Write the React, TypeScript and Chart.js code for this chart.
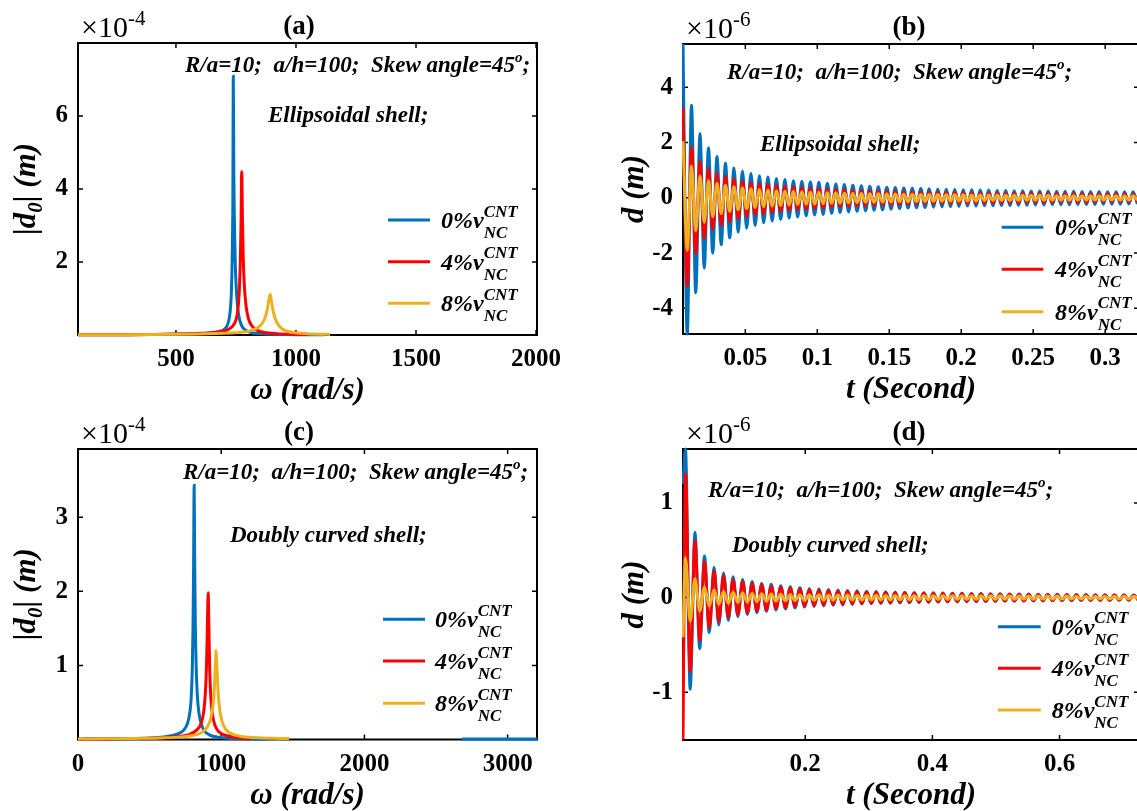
import React, { useEffect, useRef } from "react";
import { Chart, registerables } from "chart.js";
Chart.register(...registerables);

// ---------- colours / names ----------
const BLUE = "#0072BD";
const RED = "#FF0000";
const YELLOW = "#EDB120";
const seriesColors = [BLUE, RED, YELLOW];
const seriesNames = ["0%v", "4%v", "8%v"];

// ---------- panel (a): Ellipsoidal shell, frequency response ----------
const aBlueW = [92, 200, 300, 400, 500, 600, 650, 680, 700, 715, 725, 731, 735, 737, 739, 741, 743, 747, 751, 757, 765, 775, 790, 810, 850, 900, 1000, 1060, 1120];
const aBlueD = [0.004, 0.006, 0.009, 0.014, 0.022, 0.04, 0.065, 0.1, 0.15, 0.28, 0.6, 1.2, 2.4, 3.6, 7.09, 4.5, 3.3, 2.0, 1.3, 0.75, 0.42, 0.24, 0.13, 0.07, 0.035, 0.02, 0.01, 0.007, 0.005];
const aRedW = [92, 200, 300, 400, 500, 600, 680, 720, 745, 756, 763, 768, 771, 774, 777, 780, 785, 792, 802, 815, 835, 870, 920, 980, 1045];
const aRedD = [0.004, 0.007, 0.01, 0.016, 0.026, 0.045, 0.09, 0.16, 0.33, 0.6, 1.1, 2.0, 3.0, 4.47, 3.2, 2.2, 1.35, 0.8, 0.45, 0.26, 0.14, 0.07, 0.035, 0.02, 0.012];
const aYelW = [92, 200, 300, 400, 500, 600, 700, 760, 800, 830, 850, 865, 875, 882, 887, 890, 892, 894, 897, 902, 910, 920, 935, 960, 1000, 1050, 1100, 1142];
const aYelD = [0.005, 0.007, 0.01, 0.014, 0.02, 0.03, 0.045, 0.07, 0.1, 0.16, 0.25, 0.38, 0.55, 0.75, 0.95, 1.06, 1.11, 1.07, 0.96, 0.76, 0.52, 0.35, 0.21, 0.11, 0.06, 0.035, 0.022, 0.016];
const aXTicks = [500, 1000, 1500, 2000];
const aXLabels = ["500", "1000", "1500", "2000"];
const aYTicks = [2, 4, 6];
const aYLabels = ["2", "4", "6"];

// ---------- panel (b): Ellipsoidal shell, time response (extrema) ----------
const bTime = [
  0.0067, 0.00965, 0.0126, 0.01555, 0.0185, 0.02145, 0.0244, 0.02735, 0.0303, 0.03325,
  0.0362, 0.03915, 0.0421, 0.04505, 0.048, 0.05095, 0.0539, 0.05685, 0.0598, 0.06275,
  0.0657, 0.06865, 0.0716, 0.07455, 0.0775, 0.08045, 0.0834, 0.08635, 0.0893, 0.09225,
  0.0952, 0.09815, 0.1011, 0.10405, 0.107, 0.10995, 0.1129, 0.11585, 0.1188, 0.12175,
  0.1247, 0.12765, 0.1306, 0.13355, 0.1365, 0.13945, 0.1424, 0.14535, 0.1483, 0.15125,
  0.1542, 0.15715, 0.1601, 0.16305, 0.166, 0.16895, 0.1719, 0.17485, 0.1778, 0.18075,
  0.1837, 0.18665, 0.1896, 0.19255, 0.1955, 0.19845, 0.2014, 0.20435, 0.2073, 0.21025,
  0.2132, 0.21615, 0.2191, 0.22205, 0.225, 0.22795, 0.2309, 0.23385, 0.2368, 0.23975,
  0.2427, 0.24565, 0.2486, 0.25155, 0.2545, 0.25745, 0.2604, 0.26335, 0.2663, 0.26925,
  0.2722, 0.27515, 0.2781, 0.28105, 0.284, 0.28695, 0.2899, 0.29285, 0.2958, 0.29875,
  0.3017, 0.30465, 0.3076, 0.31055, 0.3135, 0.31645, 0.3194, 0.32235,
];
const bBlue = [
  5.57, -4.93, 3.35, -3.44, 2.33, -2.54, 1.81, -2.0, 1.5, -1.7,
  1.25, -1.45, 1.08, -1.25, 0.97, -1.1, 0.88, -1.0, 0.8, -0.9,
  0.75, -0.84, 0.7, -0.78, 0.66, -0.73, 0.62, -0.69, 0.6, -0.65,
  0.58, -0.62, 0.56, -0.6, 0.53, -0.56, 0.5, -0.53, 0.48, -0.51,
  0.46, -0.49, 0.44, -0.47, 0.42, -0.45, 0.4, -0.43, 0.38, -0.41,
  0.37, -0.39, 0.36, -0.37, 0.35, -0.36, 0.34, -0.35, 0.33, -0.34,
  0.32, -0.33, 0.31, -0.32, 0.3, -0.31, 0.29, -0.3, 0.29, -0.3,
  0.28, -0.29, 0.28, -0.29, 0.27, -0.28, 0.27, -0.28, 0.26, -0.27,
  0.26, -0.27, 0.25, -0.26, 0.25, -0.26, 0.25, -0.25, 0.24, -0.25,
  0.24, -0.25, 0.24, -0.24, 0.23, -0.24, 0.23, -0.24, 0.23, -0.23,
  0.22, -0.23, 0.22, -0.23, 0.22, -0.22, 0.22, -0.22,
];
const bRed = [
  3.25, -3.2, 1.85, -2.0, 1.3, -1.45, 1.05, -1.15, 0.9, -1.0,
  0.78, -0.87, 0.68, -0.76, 0.6, -0.67, 0.55, -0.61, 0.5, -0.56,
  0.47, -0.52, 0.44, -0.48, 0.41, -0.45, 0.39, -0.42, 0.37, -0.4,
  0.35, -0.38, 0.34, -0.36, 0.32, -0.34, 0.31, -0.32, 0.3, -0.31,
  0.28, -0.3, 0.27, -0.29, 0.26, -0.27, 0.25, -0.26, 0.24, -0.25,
  0.23, -0.24, 0.22, -0.23, 0.21, -0.22, 0.21, -0.21, 0.2, -0.21,
  0.2, -0.2, 0.19, -0.2, 0.19, -0.19, 0.18, -0.19, 0.18, -0.18,
  0.17, -0.18, 0.17, -0.18, 0.17, -0.17, 0.16, -0.17, 0.16, -0.17,
  0.16, -0.16, 0.16, -0.16, 0.15, -0.16, 0.15, -0.16, 0.15, -0.15,
  0.15, -0.15, 0.15, -0.15, 0.14, -0.15, 0.14, -0.15, 0.14, -0.14,
  0.14, -0.14, 0.14, -0.14, 0.14, -0.14, 0.13, -0.14,
];
const bYellow = [
  2.05, -1.9, 1.15, -1.2, 0.8, -0.88, 0.63, -0.68, 0.53, -0.57,
  0.46, -0.49, 0.4, -0.43, 0.36, -0.39, 0.33, -0.35, 0.3, -0.32,
  0.28, -0.3, 0.26, -0.28, 0.24, -0.26, 0.23, -0.24, 0.22, -0.23,
  0.21, -0.22, 0.2, -0.21, 0.19, -0.2, 0.18, -0.19, 0.17, -0.18,
  0.16, -0.17, 0.16, -0.16, 0.15, -0.16, 0.15, -0.15, 0.14, -0.15,
  0.14, -0.14, 0.13, -0.14, 0.13, -0.13, 0.12, -0.13, 0.12, -0.12,
  0.12, -0.12, 0.11, -0.12, 0.11, -0.11, 0.11, -0.11, 0.1, -0.11,
  0.1, -0.1, 0.1, -0.1, 0.1, -0.1, 0.09, -0.1, 0.09, -0.1,
  0.09, -0.09, 0.09, -0.09, 0.09, -0.09, 0.09, -0.09, 0.08, -0.09,
  0.08, -0.09, 0.08, -0.08, 0.08, -0.08, 0.08, -0.08, 0.08, -0.08,
  0.08, -0.08, 0.08, -0.08, 0.08, -0.08, 0.08, -0.08,
];
const bXTicks = [0.05, 0.1, 0.15, 0.2, 0.25, 0.3];
const bXLabels = ["0.05", "0.1", "0.15", "0.2", "0.25", "0.3"];
const bYTicks = [-4, -2, 0, 2, 4];
const bYLabels = ["-4", "-2", "0", "2", "4"];

// ---------- panel (c): Doubly curved shell, frequency response ----------
const cBlueW = [0, 200, 400, 500, 600, 650, 700, 740, 765, 780, 790, 798, 803, 807, 811, 815, 819, 825, 833, 845, 862, 885, 920, 980, 1060, 1150, 1320, 2000, 2680, 3205];
const cBlueD = [0.005, 0.008, 0.014, 0.02, 0.035, 0.05, 0.08, 0.13, 0.22, 0.35, 0.55, 0.95, 1.5, 2.3, 3.43, 2.4, 1.6, 1.0, 0.6, 0.35, 0.2, 0.11, 0.06, 0.03, 0.015, 0.009, 0.005, null, 0.008, 0.008];
const cRedW = [0, 200, 400, 600, 700, 780, 830, 860, 878, 890, 898, 903, 907, 909, 911, 914, 919, 926, 938, 955, 985, 1040, 1110, 1204];
const cRedD = [0.005, 0.008, 0.013, 0.025, 0.04, 0.07, 0.13, 0.22, 0.38, 0.65, 1.05, 1.5, 1.88, 1.98, 1.85, 1.5, 1.0, 0.62, 0.35, 0.2, 0.1, 0.05, 0.025, 0.012];
const cYelW = [0, 200, 400, 600, 700, 800, 860, 900, 925, 940, 950, 956, 960, 964, 968, 973, 980, 990, 1005, 1030, 1070, 1130, 1200, 1300, 1400, 1474];
const cYelD = [0.006, 0.009, 0.014, 0.022, 0.032, 0.055, 0.09, 0.16, 0.27, 0.42, 0.62, 0.85, 1.05, 1.2, 1.08, 0.85, 0.6, 0.4, 0.25, 0.14, 0.08, 0.045, 0.03, 0.02, 0.015, 0.012];
const cXTicks = [0, 1000, 2000, 3000];
const cXLabels = ["0", "1000", "2000", "3000"];
const cYTicks = [1, 2, 3];
const cYLabels = ["1", "2", "3"];

// ---------- panel (d): Doubly curved shell, time response (extrema) ----------
const dTime = [
  0.0077, 0.0115, 0.019, 0.0265, 0.034, 0.0415, 0.049, 0.0565, 0.064, 0.0715,
  0.079, 0.0865, 0.094, 0.1015, 0.109, 0.1165, 0.124, 0.1315, 0.139, 0.1465,
  0.154, 0.1615, 0.169, 0.1765, 0.184, 0.1915, 0.199, 0.2065, 0.214, 0.2215,
  0.229, 0.2365, 0.244, 0.2515, 0.259, 0.2665, 0.274, 0.2815, 0.289, 0.2965,
  0.304, 0.3115, 0.319, 0.3265, 0.334, 0.3415, 0.349, 0.3565, 0.364, 0.3715,
  0.379, 0.3865, 0.394, 0.4015, 0.409, 0.4165, 0.424, 0.4315, 0.439, 0.4465,
  0.454, 0.4615, 0.469, 0.4765, 0.484, 0.4915, 0.499, 0.5065, 0.514, 0.5215,
  0.529, 0.5365, 0.544, 0.5515, 0.559, 0.5665, 0.574, 0.5815, 0.589, 0.5965,
  0.604, 0.6115, 0.619, 0.6265, 0.634, 0.6415, 0.649, 0.6565, 0.664, 0.6715,
  0.679, 0.6865, 0.694, 0.7015, 0.709, 0.7165, 0.724,
];
const dBlue = [
  1.2, 1.57, -0.97, 0.69, -0.54, 0.44, -0.37, 0.32, -0.29, 0.26,
  -0.24, 0.22, -0.2, 0.19, -0.18, 0.17, -0.16, 0.15, -0.145, 0.14,
  -0.13, 0.125, -0.12, 0.115, -0.11, 0.105, -0.1, 0.097, -0.094, 0.091,
  -0.088, 0.085, -0.082, 0.08, -0.078, 0.075, -0.073, 0.071, -0.069, 0.067,
  -0.065, 0.064, -0.062, 0.061, -0.06, 0.058, -0.057, 0.056, -0.055, 0.054,
  -0.053, 0.052, -0.051, 0.05, -0.049, 0.048, -0.047, 0.047, -0.046, 0.045,
  -0.044, 0.044, -0.043, 0.042, -0.042, 0.041, -0.04, 0.04, -0.039, 0.039,
  -0.038, 0.038, -0.037, 0.037, -0.036, 0.036, -0.035, 0.035, -0.034, 0.034,
  -0.034, 0.033, -0.033, 0.032, -0.032, 0.032, -0.031, 0.031, -0.031, 0.03,
  -0.03, 0.03, -0.029, 0.029, -0.029, 0.028, -0.028,
];
const dRed = [
  -1.5, 1.31, -0.78, 0.6, -0.45, 0.38, -0.32, 0.28, -0.25, 0.23,
  -0.21, 0.19, -0.18, 0.17, -0.16, 0.15, -0.14, 0.135, -0.13, 0.12,
  -0.115, 0.11, -0.105, 0.1, -0.097, 0.093, -0.09, 0.086, -0.083, 0.08,
  -0.078, 0.075, -0.073, 0.07, -0.068, 0.066, -0.064, 0.062, -0.061, 0.059,
  -0.058, 0.056, -0.055, 0.054, -0.053, 0.051, -0.05, 0.049, -0.048, 0.047,
  -0.046, 0.046, -0.045, 0.044, -0.043, 0.042, -0.042, 0.041, -0.04, 0.04,
  -0.039, 0.038, -0.038, 0.037, -0.037, 0.036, -0.035, 0.035, -0.034, 0.034,
  -0.033, 0.033, -0.033, 0.032, -0.032, 0.031, -0.031, 0.03, -0.03, 0.03,
  -0.029, 0.029, -0.029, 0.028, -0.028, 0.028, -0.027, 0.027, -0.027, 0.026,
  -0.026, 0.026, -0.026, 0.025, -0.025, 0.025, -0.025,
];
const dYellow = [
  -0.42, 0.42, -0.25, 0.2, -0.14, 0.11, -0.09, 0.08, -0.07, 0.065,
  -0.06, 0.056, -0.052, 0.049, -0.046, 0.044, -0.042, 0.04, -0.038, 0.037,
  -0.036, 0.035, -0.034, 0.033, -0.032, 0.031, -0.031, 0.03, -0.029, 0.029,
  -0.028, 0.028, -0.027, 0.027, -0.026, 0.026, -0.025, 0.025, -0.025, 0.024,
  -0.024, 0.024, -0.023, 0.023, -0.023, 0.022, -0.022, 0.022, -0.022, 0.021,
  -0.021, 0.021, -0.021, 0.02, -0.02, 0.02, -0.02, 0.02, -0.019, 0.019,
  -0.019, 0.019, -0.019, 0.018, -0.018, 0.018, -0.018, 0.018, -0.018, 0.017,
  -0.017, 0.017, -0.017, 0.017, -0.017, 0.016, -0.016, 0.016, -0.016, 0.016,
  -0.016, 0.016, -0.015, 0.015, -0.015, 0.015, -0.015, 0.015, -0.015, 0.015,
  -0.014, 0.014, -0.014, 0.014, -0.014, 0.014, -0.014,
];
const dXTicks = [0.2, 0.4, 0.6];
const dXLabels = ["0.2", "0.4", "0.6"];
const dYTicks = [-1, 0, 1];
const dYLabels = ["-1", "0", "1"];

// ---------- fonts / helpers ----------
const SERIF = '"Liberation Serif", "Times New Roman", serif';
const fBI = (s: number) => `italic bold ${s}px ${SERIF}`;
const fB = (s: number) => `bold ${s}px ${SERIF}`;
const fN = (s: number) => `${s}px ${SERIF}`;

type Part = [string, string, number];

function partsWidth(ctx: CanvasRenderingContext2D, parts: Part[]) {
  let w = 0;
  for (const [t, f] of parts) {
    ctx.font = f;
    w += ctx.measureText(t).width;
  }
  return w;
}
function drawParts(ctx: CanvasRenderingContext2D, x: number, y: number, parts: Part[]) {
  let cx = x;
  for (const [t, f, dy] of parts) {
    ctx.font = f;
    ctx.fillText(t, cx, y + dy);
    cx += ctx.measureText(t).width;
  }
  return cx;
}

const CW = 1150;
const CH = 811;
const YW = 70;
const XH = 40;

type Panel = {
  L: number; R: number; T: number; B: number;
  xMin: number; xMax: number; yMin: number; yMax: number;
  xTicks: number[]; xLabels: string[]; yTicks: number[]; yLabels: string[];
  series: { x: number[]; y: (number | null)[] }[];
  title: string; titleX: number; exp: string;
  xTitle: Part[]; yTitle: Part[]; yTitleX: number;
  note1: [number, number]; note2: [number, number, string];
  legend: { x1: number; x2: number; xt: number; ys: number[] };
};

const noteParts: Part[] = [
  ["R/a=10;  a/h=100;  Skew angle=45", fBI(23), 0],
  ["o", fBI(15), -10],
  [";", fBI(23), 0],
];
const omegaTitle: Part[] = [["\u03c9 (rad/s)", fBI(31), 0]];
const timeTitle: Part[] = [["t (Second)", fBI(31), 0]];
const ampTitle: Part[] = [["|d", fBI(31), 0], ["0", fBI(21), 7], ["| (m)", fBI(31), 0]];
const dispTitle: Part[] = [["d (m)", fBI(31), 0]];

const panels: Panel[] = [
  {
    L: 78, R: 537, T: 43, B: 335, xMin: 92, xMax: 2004, yMin: 0, yMax: 8,
    xTicks: aXTicks, xLabels: aXLabels, yTicks: aYTicks, yLabels: aYLabels,
    series: [{ x: aBlueW, y: aBlueD }, { x: aRedW, y: aRedD }, { x: aYelW, y: aYelD }],
    title: "(a)", titleX: 299, exp: "-4", xTitle: omegaTitle, yTitle: ampTitle, yTitleX: 25,
    note1: [185, 72], note2: [268, 122, "Ellipsoidal shell;"],
    legend: { x1: 388, x2: 430, xt: 441, ys: [220, 261.7, 303.3] },
  },
  {
    L: 683, R: 1139, T: 44, B: 334, xMin: 0.0067, xMax: 0.3235, yMin: -4.93, yMax: 5.57,
    xTicks: bXTicks, xLabels: bXLabels, yTicks: bYTicks, yLabels: bYLabels,
    series: [{ x: bTime, y: bBlue }, { x: bTime, y: bRed }, { x: bTime, y: bYellow }],
    title: "(b)", titleX: 909, exp: "-6", xTitle: timeTitle, yTitle: dispTitle, yTitleX: 632.5,
    note1: [727, 79], note2: [760, 150.5, "Ellipsoidal shell;"],
    legend: { x1: 1001.7, x2: 1043.3, xt: 1055, ys: [227.3, 269.3, 311.7] },
  },
  {
    L: 78, R: 537, T: 449, B: 739.5, xMin: 0, xMax: 3205, yMin: 0, yMax: 3.92,
    xTicks: cXTicks, xLabels: cXLabels, yTicks: cYTicks, yLabels: cYLabels,
    series: [{ x: cBlueW, y: cBlueD }, { x: cRedW, y: cRedD }, { x: cYelW, y: cYelD }],
    title: "(c)", titleX: 299, exp: "-4", xTitle: omegaTitle, yTitle: ampTitle, yTitleX: 25,
    note1: [183, 479], note2: [230, 541.5, "Doubly curved shell;"],
    legend: { x1: 383, x2: 425, xt: 435, ys: [619.3, 661, 703.3] },
  },
  {
    L: 683, R: 1139, T: 449, B: 740, xMin: 0.0077, xMax: 0.725, yMin: -1.505, yMax: 1.57,
    xTicks: dXTicks, xLabels: dXLabels, yTicks: dYTicks, yLabels: dYLabels,
    series: [{ x: dTime, y: dBlue }, { x: dTime, y: dRed }, { x: dTime, y: dYellow }],
    title: "(d)", titleX: 909, exp: "-6", xTitle: timeTitle, yTitle: dispTitle, yTitleX: 632.5,
    note1: [708, 497], note2: [732, 552, "Doubly curved shell;"],
    legend: { x1: 998, x2: 1040.7, xt: 1051.7, ys: [626.7, 668.3, 710] },
  },
];

function makeChart(canvas: HTMLCanvasElement, p: Panel) {
  const datasets = p.series.map((s, i) => ({
    label: seriesNames[i],
    data: s.x.map((xv, j) => ({ x: xv, y: s.y[j] })),
    borderColor: seriesColors[i],
    backgroundColor: seriesColors[i],
    borderWidth: 3,
    pointRadius: 0,
    fill: false,
    spanGaps: false,
    cubicInterpolationMode: "monotone",
    clip: { left: 1, top: 2, right: 1, bottom: 2 },
    order: 2 - i,
  }));

  const tickFont = { family: "Liberation Serif", size: 25, weight: "bold" as const };

  const framePlugin = {
    id: "frame",
    beforeDatasetsDraw(chart: any) {
      const { ctx, chartArea } = chart;
      const { left, right, top, bottom } = chartArea;
      const xs = chart.scales.x;
      const ys = chart.scales.y;
      ctx.save();
      ctx.strokeStyle = "#000";
      ctx.lineWidth = 1.5;
      ctx.beginPath();
      for (const v of p.xTicks) {
        const px = xs.getPixelForValue(v);
        ctx.moveTo(px, bottom);
        ctx.lineTo(px, bottom - 5);
        ctx.moveTo(px, top);
        ctx.lineTo(px, top + 5);
      }
      for (const v of p.yTicks) {
        const py = ys.getPixelForValue(v);
        ctx.moveTo(left, py);
        ctx.lineTo(left + 5, py);
        ctx.moveTo(right, py);
        ctx.lineTo(right - 5, py);
      }
      ctx.stroke();
      ctx.lineWidth = 2;
      ctx.strokeRect(left, top, right - left, bottom - top);
      ctx.restore();
    },
  };

  const textPlugin = {
    id: "texts",
    afterDraw(chart: any) {
      const { ctx, chartArea } = chart;
      const { left, right, top, bottom } = chartArea;
      const cx = (left + right) / 2;
      ctx.save();
      ctx.fillStyle = "#000";
      ctx.textBaseline = "alphabetic";
      ctx.textAlign = "left";

      // title
      const tParts: Part[] = [[p.title, fB(27), 0]];
      drawParts(ctx, p.titleX - partsWidth(ctx, tParts) / 2, top - 9, tParts);

      // exponent
      drawParts(ctx, left + 3, top - 6, [["\u00d710", fN(30), 0], [p.exp, fN(21), -12]]);

      // annotations
      drawParts(ctx, p.note1[0], p.note1[1], noteParts);
      drawParts(ctx, p.note2[0], p.note2[1], [[p.note2[2], fBI(23), 0]]);

      // axis titles
      drawParts(ctx, cx - partsWidth(ctx, p.xTitle) / 2, bottom + 64, p.xTitle);
      ctx.save();
      ctx.translate(p.yTitleX, (top + bottom) / 2);
      ctx.rotate(-Math.PI / 2);
      drawParts(ctx, -partsWidth(ctx, p.yTitle) / 2, 10, p.yTitle);
      ctx.restore();

      // legend
      const lg = p.legend;
      lg.ys.forEach((y, i) => {
        ctx.strokeStyle = seriesColors[i];
        ctx.lineWidth = 3;
        ctx.beginPath();
        ctx.moveTo(lg.x1, y);
        ctx.lineTo(lg.x2, y);
        ctx.stroke();
        const end = drawParts(ctx, lg.xt, y + 8, [[seriesNames[i], fBI(24), 0]]);
        ctx.font = fBI(17);
        ctx.fillText("CNT", end, y - 3.5);
        ctx.fillText("NC", end, y + 18);
      });
      ctx.restore();
    },
  };

  return new Chart(canvas, {
    type: "line",
    data: { datasets: datasets as any },
    options: {
      animation: false,
      responsive: false,
      devicePixelRatio: 1,
      events: [],
      layout: {
        autoPadding: false,
        padding: { left: p.L - YW, right: CW - p.R, top: p.T, bottom: CH - p.B - XH },
      },
      plugins: { legend: { display: false }, tooltip: { enabled: false }, title: { display: false } },
      scales: {
        x: {
          type: "linear",
          min: p.xMin,
          max: p.xMax,
          afterBuildTicks: (s: any) => {
            s.ticks = p.xTicks.map((v) => ({ value: v }));
          },
          afterFit: (s: any) => {
            s.height = XH;
            s.paddingLeft = 0;
            s.paddingRight = 0;
          },
          ticks: {
            autoSkip: false,
            maxRotation: 0,
            minRotation: 0,
            padding: 10,
            color: "#000",
            font: tickFont,
            callback: (_v: any, i: number) => p.xLabels[i],
          },
          grid: { display: false, drawTicks: false },
          border: { display: false },
        },
        y: {
          type: "linear",
          min: p.yMin,
          max: p.yMax,
          afterBuildTicks: (s: any) => {
            s.ticks = p.yTicks.map((v) => ({ value: v }));
          },
          afterFit: (s: any) => {
            s.width = YW;
            s.paddingTop = 0;
            s.paddingBottom = 0;
          },
          ticks: {
            autoSkip: false,
            padding: 10,
            color: "#000",
            font: tickFont,
            callback: (_v: any, i: number) => p.yLabels[i],
          },
          grid: { display: false, drawTicks: false },
          border: { display: false },
        },
      },
    } as any,
    plugins: [framePlugin, textPlugin],
  });
}

export default function App() {
  const refs = [useRef<HTMLCanvasElement>(null), useRef<HTMLCanvasElement>(null), useRef<HTMLCanvasElement>(null), useRef<HTMLCanvasElement>(null)];
  useEffect(() => {
    const charts = panels.map((p, i) => makeChart(refs[i].current as HTMLCanvasElement, p));
    return () => charts.forEach((c) => c.destroy());
  }, []);
  return (
    <div style={{ position: "fixed", left: 0, top: 0, width: 1137, height: 811, overflow: "hidden", background: "#fff" }}>
      {refs.map((r, i) => (
        <canvas
          key={i}
          ref={r}
          width={CW}
          height={CH}
          style={{ position: "absolute", left: 0, top: 0, width: CW, height: CH, display: "block" }}
        />
      ))}
    </div>
  );
}
